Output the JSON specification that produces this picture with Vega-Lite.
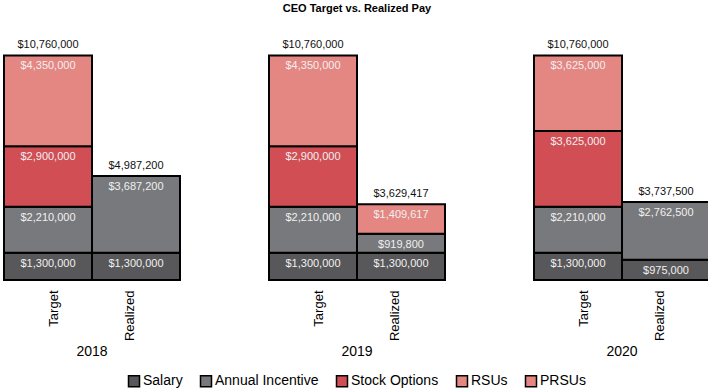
{
  "$schema": "https://vega.github.io/schema/vega-lite/v6.json",
  "padding": {"left": 3, "top": 3, "right": 2, "bottom": 0},
  "title": {"text": "CEO Target vs. Realized Pay", "fontSize": 11, "fontWeight": "bold", "anchor": "middle", "offset": 25, "color": "#000"},
  "config": {"font": "Liberation Sans", "view": {"stroke": null}},
  "data": {"values": [
    {"year": "2018", "type": "Target", "component": "Salary", "order": 1, "value": 1300000},
    {"year": "2018", "type": "Target", "component": "Annual Incentive", "order": 2, "value": 2210000},
    {"year": "2018", "type": "Target", "component": "Stock Options", "order": 3, "value": 2900000},
    {"year": "2018", "type": "Target", "component": "PRSUs", "order": 4, "value": 4350000},
    {"year": "2018", "type": "Realized", "component": "Salary", "order": 1, "value": 1300000},
    {"year": "2018", "type": "Realized", "component": "Annual Incentive", "order": 2, "value": 3687200},
    {"year": "2019", "type": "Target", "component": "Salary", "order": 1, "value": 1300000},
    {"year": "2019", "type": "Target", "component": "Annual Incentive", "order": 2, "value": 2210000},
    {"year": "2019", "type": "Target", "component": "Stock Options", "order": 3, "value": 2900000},
    {"year": "2019", "type": "Target", "component": "PRSUs", "order": 4, "value": 4350000},
    {"year": "2019", "type": "Realized", "component": "Salary", "order": 1, "value": 1300000},
    {"year": "2019", "type": "Realized", "component": "Annual Incentive", "order": 2, "value": 919800},
    {"year": "2019", "type": "Realized", "component": "RSUs", "order": 4, "value": 1409617},
    {"year": "2020", "type": "Target", "component": "Salary", "order": 1, "value": 1300000},
    {"year": "2020", "type": "Target", "component": "Annual Incentive", "order": 2, "value": 2210000},
    {"year": "2020", "type": "Target", "component": "Stock Options", "order": 3, "value": 3625000},
    {"year": "2020", "type": "Target", "component": "PRSUs", "order": 4, "value": 3625000},
    {"year": "2020", "type": "Realized", "component": "Salary", "order": 1, "value": 975000},
    {"year": "2020", "type": "Realized", "component": "Annual Incentive", "order": 2, "value": 2762500}
  ]},
  "facet": {
    "column": {
      "field": "year", "type": "ordinal",
      "header": {"labelOrient": "bottom", "title": null, "labelFontSize": 14, "labelPadding": 4, "labelColor": "#000"}
    }
  },
  "spacing": 87,
  "spec": {
    "width": 176,
    "height": 240,
    "encoding": {
      "x": {
        "field": "type", "type": "nominal", "sort": ["Target", "Realized"],
        "scale": {"paddingInner": 0, "paddingOuter": 0},
        "axis": {
          "title": null, "labelAngle": -90, "domain": false, "ticks": false,
          "labelFontSize": 13, "labelPadding": 9, "labelColor": "#000",
          "labelOffset": {"condition": {"test": "datum.value == 'Target'", "value": 6}, "value": -6}
        }
      }
    },
    "layer": [
      {
        "mark": {"type": "bar", "stroke": "#000", "strokeWidth": 2},
        "encoding": {
          "y": {"field": "value", "type": "quantitative", "stack": "zero", "scale": {"domain": [0, 11500000], "nice": false}, "axis": null},
          "order": {"field": "order", "type": "quantitative"},
          "color": {
            "field": "component", "type": "nominal",
            "scale": {
              "domain": ["Salary", "Annual Incentive", "Stock Options", "RSUs", "PRSUs"],
              "range": ["#58585a", "#78797c", "#d14e55", "#e48682", "#e48682"]
            },
            "legend": {
              "title": null, "orient": "none", "legendX": 123, "legendY": 334, "direction": "horizontal",
              "symbolType": "square", "symbolSize": 121, "symbolStrokeColor": "#000",
              "symbolStrokeWidth": 1.5, "symbolOpacity": 1, "labelFontSize": 14, "labelColor": "#000",
              "labelOffset": 2, "columnPadding": 14, "padding": 0
            }
          }
        }
      },
      {
        "mark": {"type": "text", "baseline": "top", "dy": 5, "fontSize": 11, "color": "#f0f0f0"},
        "encoding": {
          "y": {"field": "value", "type": "quantitative", "stack": "zero"},
          "order": {"field": "order", "type": "quantitative"},
          "detail": {"field": "component"},
          "text": {"field": "value", "type": "quantitative", "format": "$,.0f"}
        }
      },
      {
        "mark": {"type": "text", "baseline": "bottom", "dy": -5, "fontSize": 11, "color": "#111"},
        "encoding": {
          "y": {"aggregate": "sum", "field": "value", "type": "quantitative"},
          "text": {"aggregate": "sum", "field": "value", "type": "quantitative", "format": "$,.0f"}
        }
      }
    ]
  }
}
